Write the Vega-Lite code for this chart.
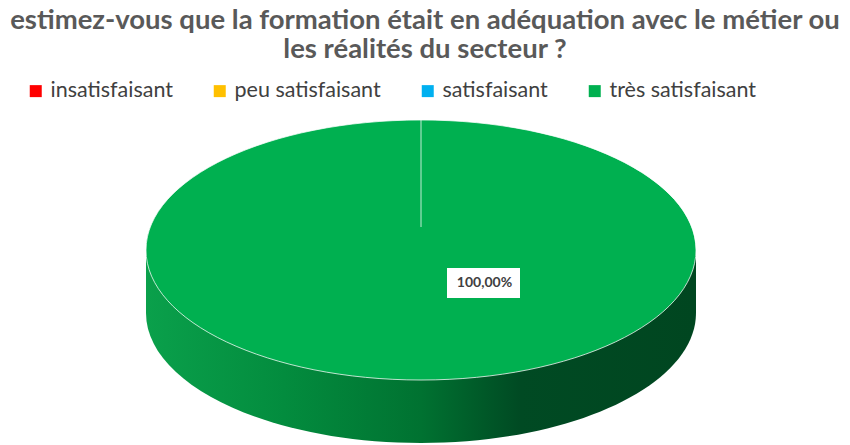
{
  "$schema": "https://vega.github.io/schema/vega-lite/v6.json",
  "width": 850,
  "height": 445,
  "autosize": {"type": "none"},
  "padding": 0,
  "background": "white",
  "config": {
    "view": {"stroke": null},
    "locale": {"number": {"decimal": ",", "thousands": " ", "grouping": [3], "currency": ["", " €"], "percent": "%"}}
  },
  "title": {
    "text": ["estimez-vous que la formation était en adéquation avec le métier ou", "les réalités du secteur ?"],
    "font": "Lato",
    "fontSize": 27.5,
    "fontWeight": "bold",
    "color": "#595959",
    "lineHeight": 29,
    "anchor": "middle",
    "frame": "group",
    "offset": -63
  },
  "data": {
    "values": [
      {"categorie": "insatisfaisant", "part": 0},
      {"categorie": "peu satisfaisant", "part": 0},
      {"categorie": "satisfaisant", "part": 0},
      {"categorie": "très satisfaisant", "part": 1}
    ]
  },
  "layer": [
    {
      "mark": {
        "type": "point",
        "filled": true,
        "opacity": 1,
        "strokeWidth": 0,
        "shape": "M -2.79 0.275 L -2.79 0.905 A 2.75 1.3 0 0 0 2.71 0.905 L 2.71 0.275 Z",
        "fill": {
          "gradient": "linear",
          "x1": 0, "y1": 0, "x2": 1, "y2": 0,
          "stops": [
            {"offset": 0, "color": "#0aa04b"},
            {"offset": 0.25, "color": "#038c3e"},
            {"offset": 0.5, "color": "#007231"},
            {"offset": 0.68, "color": "#004a23"},
            {"offset": 1, "color": "#004620"}
          ]
        }
      },
      "encoding": {
        "size": {"field": "part", "type": "quantitative", "scale": {"domain": [0, 1], "range": [0, 40000]}, "legend": null}
      }
    },
    {
      "mark": {
        "type": "point",
        "filled": true,
        "opacity": 1,
        "stroke": "white",
        "strokeWidth": 1,
        "strokeOpacity": 0.75,
        "shape": "M -2.79 0.275 A 2.75 1.3 0 1 0 2.71 0.275 A 2.75 1.3 0 1 0 -2.79 0.275 Z M -0.04 -1.025 L -0.04 0.045"
      },
      "encoding": {
        "size": {"field": "part", "type": "quantitative", "scale": {"domain": [0, 1], "range": [0, 40000]}, "legend": null},
        "color": {
          "field": "categorie",
          "type": "nominal",
          "sort": ["insatisfaisant", "peu satisfaisant", "satisfaisant", "très satisfaisant"],
          "scale": {
            "domain": ["insatisfaisant", "peu satisfaisant", "satisfaisant", "très satisfaisant"],
            "range": ["#FF0000", "#FFC000", "#00B0F0", "#00B050"]
          },
          "legend": {
            "title": null,
            "orient": "none",
            "direction": "horizontal",
            "legendX": 25,
            "legendY": 80,
            "symbolType": "square",
            "symbolSize": 144,
            "symbolStrokeWidth": 0,
            "symbolOpacity": 1,
            "labelFont": "Lato",
            "labelFontSize": 21.5,
            "labelColor": "#404040",
            "labelOffset": 4,
            "columnPadding": 36,
            "labelLimit": 400
          }
        }
      }
    },
    {
      "transform": [{"filter": "datum.part > 0"}],
      "mark": {
        "type": "point",
        "filled": true,
        "opacity": 1,
        "fill": "white",
        "strokeWidth": 0,
        "shape": "M 0.22 0.455 L 0.95 0.455 L 0.95 0.755 L 0.22 0.755 Z"
      },
      "encoding": {
        "size": {"field": "part", "type": "quantitative", "scale": {"domain": [0, 1], "range": [0, 40000]}, "legend": null}
      }
    },
    {
      "transform": [{"filter": "datum.part > 0"}],
      "mark": {
        "type": "text",
        "font": "Lato",
        "fontSize": 14,
        "fontWeight": "bold",
        "color": "#404040",
        "align": "center",
        "baseline": "middle",
        "dx": 59.5,
        "dy": 60.5
      },
      "encoding": {
        "text": {"field": "part", "type": "quantitative", "format": ".2%"}
      }
    }
  ]
}
